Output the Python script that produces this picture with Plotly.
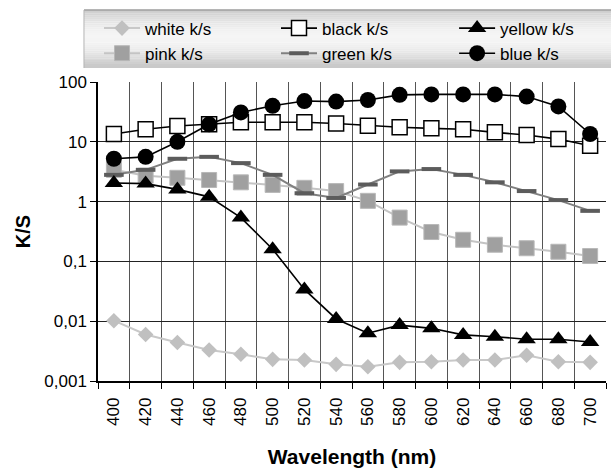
import math
import plotly.graph_objects as go

wavelengths = ["400", "420", "440", "460", "480", "500", "520", "540",
               "560", "580", "600", "620", "640", "660", "680", "700"]

white_ks = [0.0102, 0.0060, 0.0044, 0.0033, 0.0028, 0.0023, 0.00224, 0.0019,
            0.00173, 0.00205, 0.0021, 0.00224, 0.00224, 0.0027, 0.0021, 0.00205]
black_ks = [13.5, 16.2, 18.4, 19.6, 21.2, 21.2, 21.2, 20.2,
            18.6, 17.5, 16.8, 16.2, 14.4, 13.0, 11.1, 8.6]
yellow_ks = [2.05, 2.0, 1.6, 1.2, 0.54, 0.16, 0.034, 0.0109,
             0.0063, 0.0086, 0.0076, 0.0059, 0.0055, 0.0050, 0.0050, 0.0045]
pink_ks = [3.4, 2.7, 2.5, 2.3, 2.1, 1.9, 1.7, 1.5,
           1.03, 0.54, 0.31, 0.23, 0.19, 0.166, 0.145, 0.123]
green_ks = [2.8, 3.4, 5.2, 5.6, 4.4, 2.8, 1.38, 1.15,
            1.93, 3.2, 3.5, 2.8, 2.1, 1.5, 1.06, 0.70]
blue_ks = [5.2, 5.6, 10.0, 19.6, 31.0, 40.0, 48.0, 47.0,
           50.0, 61.0, 62.0, 62.0, 62.0, 57.0, 39.0, 13.5]

y_tickvals = [0.001, 0.01, 0.1, 1, 10, 100]
y_ticktext = ["0,001", "0,01", "0,1", "1", "10", "100"]

FONT = "Liberation Sans, Arial, Helvetica, sans-serif"

fig = go.Figure()

fig.add_trace(go.Scatter(
    x=wavelengths, y=white_ks, name="white k/s", mode="lines+markers",
    legend="legend",
    line=dict(color="#c8c8c8", width=2),
    marker=dict(symbol="diamond", size=12, color="#c0c0c0",
                line=dict(color="#c0c0c0", width=0))))
fig.add_trace(go.Scatter(
    x=wavelengths, y=pink_ks, name="pink k/s", mode="lines+markers",
    legend="legend",
    line=dict(color="#c4c4c4", width=2),
    marker=dict(symbol="square", size=15, color="#a0a0a0",
                line=dict(color="#b8b8b8", width=1))))
fig.add_trace(go.Scatter(
    x=wavelengths, y=green_ks, name="green k/s", mode="lines+markers",
    legend="legend2",
    line=dict(color="#808080", width=2),
    marker=dict(symbol="line-ew", size=14, color="#5c5c5c",
                line=dict(color="#5c5c5c", width=4))))
fig.add_trace(go.Scatter(
    x=wavelengths, y=black_ks, name="black k/s", mode="lines+markers",
    legend="legend2", legendrank=1,
    line=dict(color="#000000", width=1.6),
    marker=dict(symbol="square", size=15, color="#ffffff",
                line=dict(color="#000000", width=1.5))))
fig.add_trace(go.Scatter(
    x=wavelengths, y=yellow_ks, name="yellow k/s", mode="lines+markers",
    legend="legend3",
    line=dict(color="#000000", width=1.6),
    marker=dict(symbol="triangle-up", size=16, color="#000000",
                line=dict(color="#000000", width=0))))
fig.add_trace(go.Scatter(
    x=wavelengths, y=blue_ks, name="blue k/s", mode="lines+markers",
    legend="legend3",
    line=dict(color="#000000", width=1.6),
    marker=dict(symbol="circle", size=16, color="#000000",
                line=dict(color="#000000", width=0))))

# gradient legend background (strips)
n_strips = 30
y_top, y_bot = 1.2408, 1.0468
x_left, x_right = -0.0276, 1.02
shapes = []
for i in range(n_strips):
    t = (i + 0.5) / n_strips
    g = 0.79 + 0.17 * math.sin(math.pi * min(1.0, t * 1.05))
    v = int(round(g * 255))
    y0 = y_top - (y_top - y_bot) * i / n_strips
    y1 = y_top - (y_top - y_bot) * (i + 1) / n_strips
    shapes.append(dict(type="rect", xref="paper", yref="paper",
                       x0=x_left, x1=x_right, y0=y1, y1=y0 + 0.0005,
                       line=dict(width=0), fillcolor=f"rgb({v},{v},{v})",
                       layer="below"))
shapes.append(dict(type="line", xref="paper", yref="paper",
                   x0=x_left, x1=x_right, y0=y_top, y1=y_top,
                   line=dict(color="#a0a0a0", width=1.5)))
shapes.append(dict(type="line", xref="paper", yref="paper",
                   x0=x_left, x1=x_left, y0=y_bot, y1=y_top,
                   line=dict(color="#b4b4b4", width=1)))

leg_common = dict(orientation="v", xanchor="left", yanchor="top",
                  y=1.239, itemwidth=36, bgcolor="rgba(0,0,0,0)",
                  font=dict(family=FONT, size=17, color="#000000"),
                  tracegroupgap=0, traceorder="normal")

fig.update_layout(
    width=611, height=476,
    margin=dict(l=98, r=5, t=82, b=95),
    paper_bgcolor="#ffffff", plot_bgcolor="#ffffff",
    font=dict(family=FONT, size=17, color="#000000"),
    shapes=shapes,
    legend=dict(x=0.002, **leg_common),
    legend2=dict(x=0.3504, **leg_common),
    legend3=dict(x=0.701, **leg_common),
    showlegend=True,
)

fig.update_xaxes(
    type="category", tickson="boundaries", tickangle=-90,
    ticks="outside", ticklen=6, tickcolor="#000000",
    ticklabelstandoff=8,
    showgrid=True, gridcolor="#555555", gridwidth=1,
    showline=True, linecolor="#000000", linewidth=1.5,
    mirror=False, range=[-0.5, 15.5],
    tickfont=dict(family=FONT, size=17, color="#000000"),
    title=dict(text="<b>Wavelength (nm)</b>",
               font=dict(family=FONT, size=21, color="#000000"), standoff=24),
)
fig.update_yaxes(
    type="log", range=[-3, 2],
    tickvals=y_tickvals, ticktext=y_ticktext,
    ticks="outside", ticklen=6, tickcolor="#000000",
    showgrid=True, gridcolor="#222222", gridwidth=1.3,
    showline=True, linecolor="#000000", linewidth=1.5,
    zeroline=False,
    tickfont=dict(family=FONT, size=17, color="#000000"),
    title=dict(text="<b>K/S</b>",
               font=dict(family=FONT, size=20, color="#000000"), standoff=8),
)

fig.write_html("out.html")
